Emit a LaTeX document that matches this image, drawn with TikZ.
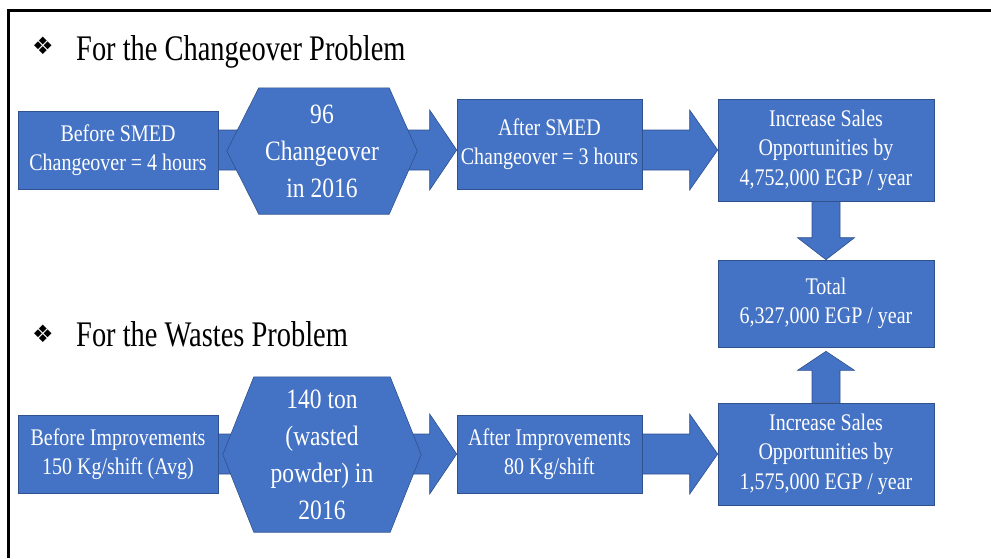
\documentclass[tikz,border=0pt]{standalone}
\usepackage{fontspec}
\setmainfont{Liberation Serif}[FakeStretch=0.84]
\newfontfamily\headfont{Liberation Serif}[FakeStretch=0.79]
\newfontfamily\bulletfont{DejaVu Sans}
\usetikzlibrary{positioning, calc, backgrounds}
\definecolor{boxblue}{HTML}{4472C4}
\definecolor{boxline}{HTML}{2F528F}

\begin{document}
\begin{tikzpicture}[x=1pt, y=-1pt,
        infobox/.style={draw=boxline, fill=boxblue, line width=0.6pt, text=white, align=center, inner sep=0pt, font=\fontsize{23.8}{29.5}\selectfont},
        hextext/.style={text=white, align=center, inner sep=0pt, font=\fontsize{28}{37}\selectfont},
        blockarrow/.style={draw=boxline, fill=boxblue, line width=0.6pt},
        headline/.style={anchor=base west, inner sep=0pt, font=\headfont\fontsize{36}{40}\selectfont},
        bulletmark/.style={inner sep=0pt, font=\bulletfont\fontsize{24}{24}\selectfont}]
            \useasboundingbox (0,0) rectangle (991,558);
            \draw[line width=3] (991,10) -- (8.5,10) -- (8.5,558);
            \node[bulletmark] (bul1) at (43,46) {❖};
            \node[headline] (head1) at (76,60) {For the Changeover Problem};
            \node[infobox, minimum width=200, minimum height=78] (smedBefore) at (118,150) {Before SMED\\Changeover = 4 hours};
            \node[hextext, minimum width=190, minimum height=126] (count1) at (322,151) {96\\Changeover\\in 2016};
            \node[infobox, minimum width=185, minimum height=90] (smedAfter) at (549.5,144) {After SMED\\Changeover = 3 hours};
            \node[infobox, minimum width=216, minimum height=102] (sales1) at (826,150) {Increase Sales\\Opportunities by\\4,752,000 EGP / year};
            \node[infobox, minimum width=216, minimum height=87] (total) at (826,303.5) {Total\\6,327,000 EGP / year};
            \node[bulletmark] (bul2) at (43,334) {❖};
            \node[headline] (head2) at (76,346) {For the Wastes Problem};
            \node[infobox, minimum width=200, minimum height=78] (wasteBefore) at (118,454) {Before Improvements\\150 Kg/shift (Avg)};
            \node[hextext, minimum width=198, minimum height=155] (count2) at (322,454.5) {140 ton\\(wasted\\powder) in\\2016};
            \node[infobox, minimum width=185, minimum height=78] (wasteAfter) at (549.5,454) {After Improvements\\80 Kg/shift};
            \node[infobox, minimum width=216, minimum height=102] (sales2) at (826,454) {Increase Sales\\Opportunities by\\1,575,000 EGP / year};
            \coordinate (tip1) at (smedAfter.west |- smedBefore.east);
            \coordinate (tip2) at (sales1.west);
            \coordinate (tip3) at (wasteAfter.west |- wasteBefore.east);
            \coordinate (tip4) at (sales2.west);
            \coordinate (tip5) at (total.north);
            \coordinate (tip6) at ($(total.south)+(0,4)$);
            \begin{pgfonlayer}{background}
                \draw[blockarrow] ($(smedBefore.east)+(0,-20)$) -- ($(tip1)+(-27,-20)$) -- ($(tip1)+(-27,-40)$) -- (tip1) -- ($(tip1)+(-27,40)$) -- ($(tip1)+(-27,20)$) -- ($(smedBefore.east)+(0,20)$) -- cycle;
                \draw[blockarrow] ($(smedAfter.east |- tip2)+(0,-20)$) -- ($(tip2)+(-28,-20)$) -- ($(tip2)+(-28,-40)$) -- (tip2) -- ($(tip2)+(-28,40)$) -- ($(tip2)+(-28,20)$) -- ($(smedAfter.east |- tip2)+(0,20)$) -- cycle;
                \draw[blockarrow] ($(wasteBefore.east)+(0,-20)$) -- ($(tip3)+(-27,-20)$) -- ($(tip3)+(-27,-40)$) -- (tip3) -- ($(tip3)+(-27,40)$) -- ($(tip3)+(-27,20)$) -- ($(wasteBefore.east)+(0,20)$) -- cycle;
                \draw[blockarrow] ($(wasteAfter.east)+(0,-20)$) -- ($(tip4)+(-28,-20)$) -- ($(tip4)+(-28,-40)$) -- (tip4) -- ($(tip4)+(-28,40)$) -- ($(tip4)+(-28,20)$) -- ($(wasteAfter.east)+(0,20)$) -- cycle;
                \draw[blockarrow] ($(sales1.south)+(-14,0)$) -- ($(tip5)+(-14,-22)$) -- ($(tip5)+(-28.5,-22)$) -- (tip5) -- ($(tip5)+(28.5,-22)$) -- ($(tip5)+(14,-22)$) -- ($(sales1.south)+(14,0)$) -- cycle;
                \draw[blockarrow] ($(sales2.north)+(-14,0)$) -- ($(tip6)+(-14,19)$) -- ($(tip6)+(-28.5,19)$) -- (tip6) -- ($(tip6)+(28.5,19)$) -- ($(tip6)+(14,19)$) -- ($(sales2.north)+(14,0)$) -- cycle;
                \draw[blockarrow] (count1.west) -- ($(count1.north west)+(32,0)$) -- ($(count1.north east)+(-28,0)$) -- (count1.east) -- ($(count1.south east)+(-28,0)$) -- ($(count1.south west)+(32,0)$) -- cycle;
                \draw[blockarrow] (count2.west) -- ($(count2.north west)+(31,0)$) -- ($(count2.north east)+(-31,0)$) -- (count2.east) -- ($(count2.south east)+(-31,0)$) -- ($(count2.south west)+(31,0)$) -- cycle;
            \end{pgfonlayer}
        \end{tikzpicture}
\end{document}
